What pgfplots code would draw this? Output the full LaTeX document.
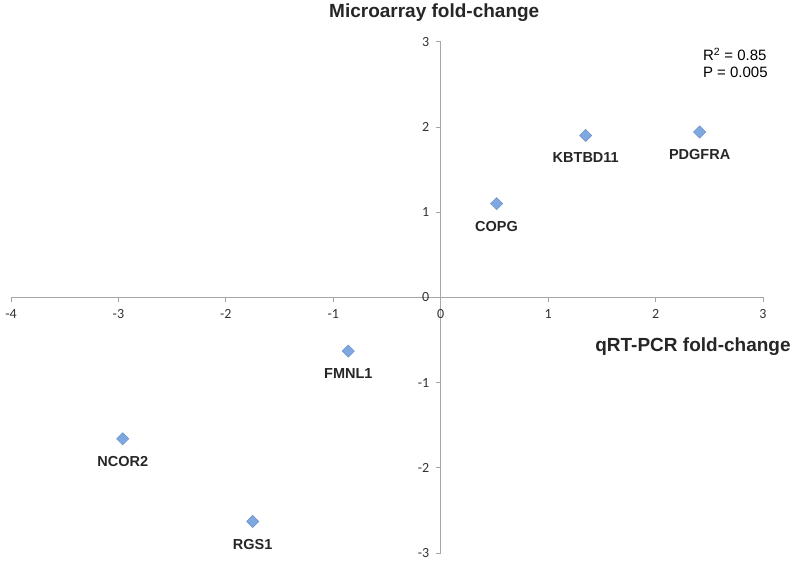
\documentclass[border=0pt]{standalone}
\usepackage{fontspec}
\setmainfont{Liberation Sans}
\newfontfamily\carlito{Carlito}
\usepackage{pgfplots}
\pgfplotsset{compat=1.18}
\definecolor{ptfill}{HTML}{80A8E0}
\definecolor{ptedge}{HTML}{6690CC}
\definecolor{axgray}{HTML}{A6A6A6}
\definecolor{ticktxt}{HTML}{333333}

\begin{document}
\begin{tikzpicture}[x=1pt,y=1pt]
\begin{axis}[
    scale only axis,
    width=752pt, height=511.3pt,
    at={(0,0)}, anchor=south west,
    axis lines=middle,
    axis line style={-, draw=axgray, line width=1.3pt},
    xmin=-4, xmax=3, ymin=-3, ymax=3,
    enlargelimits=false,
    xtick={-4,...,3}, ytick={-3,...,3},
    xticklabels={-4,-3,-2,-1,0,1,2,3},
    yticklabels={-3,-2,-1,0,1,2,3},
    hide obscured x ticks=false,
    hide obscured y ticks=false,
    tick align=outside,
    major tick length=5pt,
    tick style={draw=axgray, line width=0.8pt},
    tick label style={font=\carlito\fontsize{14}{14}\selectfont, text=ticktxt},
    xticklabel shift=4pt,
    yticklabel shift=3pt,
    clip=false,
]
\addplot[only marks, mark=square*, mark size=4.3pt,
    mark options={rotate=45, fill=ptfill, draw=ptedge, line width=0.5pt},
    nodes near coords, point meta=explicit symbolic,
    every node near coord/.append style={anchor=north, yshift=-14pt,
        font=\bfseries\fontsize{14.5}{14.5}\selectfont, text=black!85}]
  table[meta=label] {
    x     y     label
    2.41  1.94  PDGFRA
    1.35  1.90  KBTBD11
    0.52  1.10  COPG
    -0.86 -0.63 FMNL1
    -2.96 -1.66 NCOR2
    -1.75 -2.63 RGS1
  };
\node[font=\bfseries\fontsize{19}{19}\selectfont, text=black!85]
  at (axis cs:-0.06,3.34) {Microarray fold-change};
\node[font=\bfseries\fontsize{19}{19}\selectfont, text=black!85, anchor=east]
  at (axis cs:3.29,-0.58) {qRT-PCR fold-change};
\node[font=\fontsize{15}{17}\selectfont, anchor=north west, align=left, inner sep=0pt]
  at (axis cs:2.44,2.93) {R\textsuperscript{2} = 0.85\\P = 0.005};
\end{axis}
\pgfresetboundingbox
\path[use as bounding box] (-11pt,-19pt) rectangle (789pt,553pt);
\end{tikzpicture}
\end{document}
